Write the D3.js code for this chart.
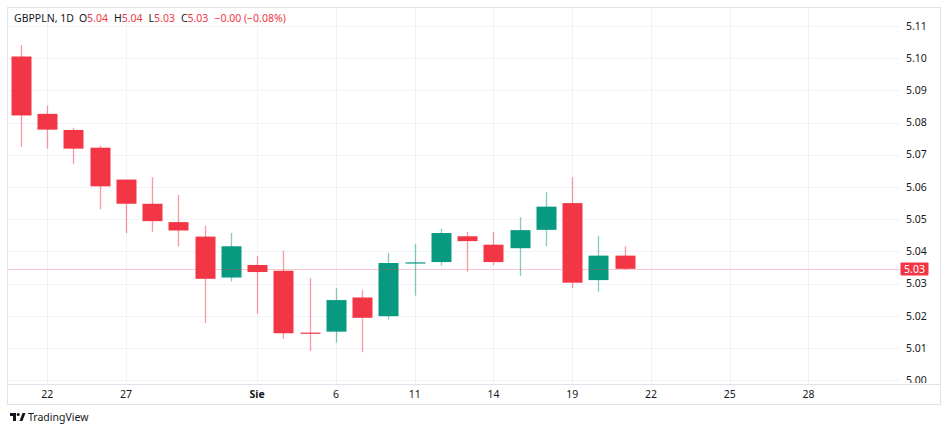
<!DOCTYPE html>
<html>
<head>
<meta charset="utf-8">
<script src="https://cdn.jsdelivr.net/npm/d3@7"></script>
<style>
  html, body { margin: 0; padding: 0; background: #ffffff; }
  svg { display: block; font-family: "Noto Sans", Roboto, "Open Sans", sans-serif; }
</style>
</head>
<body>
<svg id="chart" width="948" height="430"></svg>
<script>
// ---- data ----
const opens  = [5.1005, 5.0827, 5.0777, 5.0722, 5.0623, 5.0548, 5.0491, 5.0446, 5.0319, 5.0358, 5.0340, 5.0148,
                5.0151, 5.0257, 5.0199, 5.0364, 5.0367, 5.0447, 5.0421, 5.0410, 5.0467, 5.0550, 5.0311, 5.0387];
const highs  = [5.1041, 5.0852, 5.0784, 5.0728, 5.0623, 5.0630, 5.0575, 5.0480, 5.0457, 5.0386, 5.0402, 5.0317,
                5.0286, 5.0280, 5.0395, 5.0423, 5.0470, 5.0460, 5.0460, 5.0506, 5.0585, 5.0630, 5.0449, 5.0416];
const lows   = [5.0724, 5.0719, 5.0672, 5.0531, 5.0457, 5.0461, 5.0415, 5.0177, 5.0307, 5.0206, 5.0129, 5.0091,
                5.0117, 5.0087, 5.0189, 5.0263, 5.0356, 5.0337, 5.0357, 5.0324, 5.0417, 5.0286, 5.0275, 5.0343];
const closes = [5.0822, 5.0778, 5.0719, 5.0602, 5.0548, 5.0494, 5.0465, 5.0315, 5.0416, 5.0336, 5.0146, 5.0146,
                5.0249, 5.0194, 5.0364, 5.0366, 5.0457, 5.0432, 5.0367, 5.0466, 5.0539, 5.0303, 5.0387, 5.0346];
const timeTickIndex  = [1, 4, 9, 12, 15, 18, 21, 24, 27, 30];
const timeTickLabels = ["22", "27", "Sie", "6", "11", "14", "19", "22", "25", "28"];
const timeTickBold   = [false, false, true, false, false, false, false, false, false, false];
const priceTicks = [5.00, 5.01, 5.02, 5.03, 5.04, 5.05, 5.06, 5.07, 5.08, 5.09, 5.10, 5.11];
const symbolLabel = "GBPPLN, 1D";
const ohlcLabels = ["O", "H", "L", "C"];
const ohlcValues = ["5.04", "5.04", "5.03", "5.03"];
const changeText = "\u22120.00 (\u22120.08%)";

// ---- layout ----
const frame = { x0: 7.5, y0: 7.5, x1: 940.5, y1: 404.5 };
const paneRight = 900, paneBottom = 384;
const UP = "#089981", DOWN = "#f23645";

const svg = d3.select("#chart");
const x = d3.scaleLinear().domain([0, 30]).range([20.9, 20.9 + 30 * 26.25]);
const y = d3.scaleLinear().domain([5.00, 5.11]).range([380.3, 25.9]);

const candles = opens.map((o, i) => ({ i, o, h: highs[i], l: lows[i], c: closes[i] }));

const defs = svg.append("defs");
defs.append("clipPath").attr("id", "pane").append("rect")
  .attr("x", frame.x0).attr("y", frame.y0).attr("width", paneRight - frame.x0).attr("height", paneBottom - frame.y0);
defs.append("clipPath").attr("id", "paxis").append("rect")
  .attr("x", paneRight).attr("y", frame.y0).attr("width", frame.x1 - paneRight).attr("height", paneBottom - frame.y0 - 1);

// grid
const grid = svg.append("g").attr("clip-path", "url(#pane)");
grid.selectAll("line.h").data(priceTicks).join("line")
  .attr("x1", frame.x0).attr("x2", paneRight)
  .attr("y1", d => Math.round(y(d)) + 0.5).attr("y2", d => Math.round(y(d)) + 0.5)
  .attr("stroke", "#f0f3fa").attr("stroke-width", 1);
grid.selectAll("line.v").data(timeTickIndex).join("line")
  .attr("x1", d => Math.round(x(d)) + 0.5).attr("x2", d => Math.round(x(d)) + 0.5)
  .attr("y1", frame.y0).attr("y2", paneBottom)
  .attr("stroke", "#f0f3fa").attr("stroke-width", 1);

// candles
const cg = svg.append("g").attr("clip-path", "url(#pane)");
const bodyW = 20;
cg.selectAll("line.wick").data(candles).join("line")
  .attr("x1", d => Math.round(x(d.i)) + 0.5).attr("x2", d => Math.round(x(d.i)) + 0.5)
  .attr("y1", d => y(d.h)).attr("y2", d => y(d.l))
  .attr("stroke", d => d.c >= d.o ? UP : DOWN)
  .attr("stroke-opacity", 0.5)
  .attr("stroke-width", 1.3);
cg.selectAll("rect.body").data(candles).join("rect")
  .attr("x", d => Math.round(x(d.i)) + 0.5 - bodyW / 2)
  .attr("width", bodyW)
  .attr("y", d => y(Math.max(d.o, d.c)))
  .attr("height", d => Math.max(1.2, Math.abs(y(d.o) - y(d.c))))
  .attr("fill", d => d.c >= d.o ? UP : DOWN);

// current price line
const last = candles[candles.length - 1];
const lastUp = last.c >= last.o;
svg.append("line")
  .attr("x1", frame.x0).attr("x2", paneRight)
  .attr("y1", Math.round(y(last.c)) + 0.5).attr("y2", Math.round(y(last.c)) + 0.5)
  .attr("stroke", lastUp ? UP : DOWN).attr("stroke-opacity", 0.55)
  .attr("stroke-dasharray", "1,1").attr("stroke-width", 1);

// price axis labels
const pa = svg.append("g").attr("clip-path", "url(#paxis)");
pa.selectAll("text").data(priceTicks).join("text")
  .attr("x", 906).attr("y", d => y(d))
  .attr("dy", "0.35em")
  .attr("font-size", 10.5).attr("fill", "#131722")
  .text(d => d3.format(".2f")(d));

// last price tag
const tagY = Math.round(y(last.c));
svg.append("rect")
  .attr("x", 900.5).attr("y", tagY - 6.5).attr("width", 28).attr("height", 13)
  .attr("fill", lastUp ? UP : DOWN).attr("rx", 1);
svg.append("text")
  .attr("x", 914.5).attr("y", tagY).attr("dy", "0.35em")
  .attr("text-anchor", "middle").attr("font-size", 10.5).attr("fill", "#ffffff")
  .text(d3.format(".2f")(last.c));

// time axis
svg.append("line")
  .attr("x1", frame.x0).attr("x2", frame.x1)
  .attr("y1", paneBottom + 0.5).attr("y2", paneBottom + 0.5)
  .attr("stroke", "#e0e3eb");
svg.append("g").selectAll("text").data(timeTickIndex).join("text")
  .attr("x", d => x(d)).attr("y", 394.5).attr("dy", "0.35em")
  .attr("text-anchor", "middle").attr("font-size", 10.5).attr("fill", "#131722")
  .attr("font-weight", (d, k) => timeTickBold[k] ? "bold" : "normal")
  .text((d, k) => timeTickLabels[k]);

// frame
svg.append("rect")
  .attr("x", frame.x0).attr("y", frame.y0)
  .attr("width", frame.x1 - frame.x0).attr("height", frame.y1 - frame.y0)
  .attr("fill", "none").attr("stroke", "#e0e3eb");

// legend header
const hdr = svg.append("text").attr("x", 14).attr("y", 22).attr("font-size", 10.5).attr("fill", "#131722");
hdr.append("tspan").text(symbolLabel);
ohlcLabels.forEach((lab, k) => {
  hdr.append("tspan").attr("dx", k === 0 ? 5 : 6).attr("fill", "#131722").text(lab);
  hdr.append("tspan").attr("fill", DOWN).text(ohlcValues[k]);
});
hdr.append("tspan").attr("dx", 6).attr("fill", DOWN).text(changeText);

// TradingView logo
const logo = svg.append("g").attr("transform", "translate(10,413)");
logo.append("path").attr("d", "M0,0 H6 V8 H3 V3 H0 Z").attr("fill", "#131722");
logo.append("circle").attr("cx", 8.2).attr("cy", 1.5).attr("r", 1.5).attr("fill", "#131722");
logo.append("path").attr("d", "M9.5,8 L12.5,0 H15.5 L12.5,8 Z").attr("fill", "#131722");
svg.append("text").attr("x", 28).attr("y", 417.5).attr("dy", "0.35em")
  .attr("font-size", 10.5).attr("fill", "#131722").text("TradingView");
</script>
</body>
</html>
